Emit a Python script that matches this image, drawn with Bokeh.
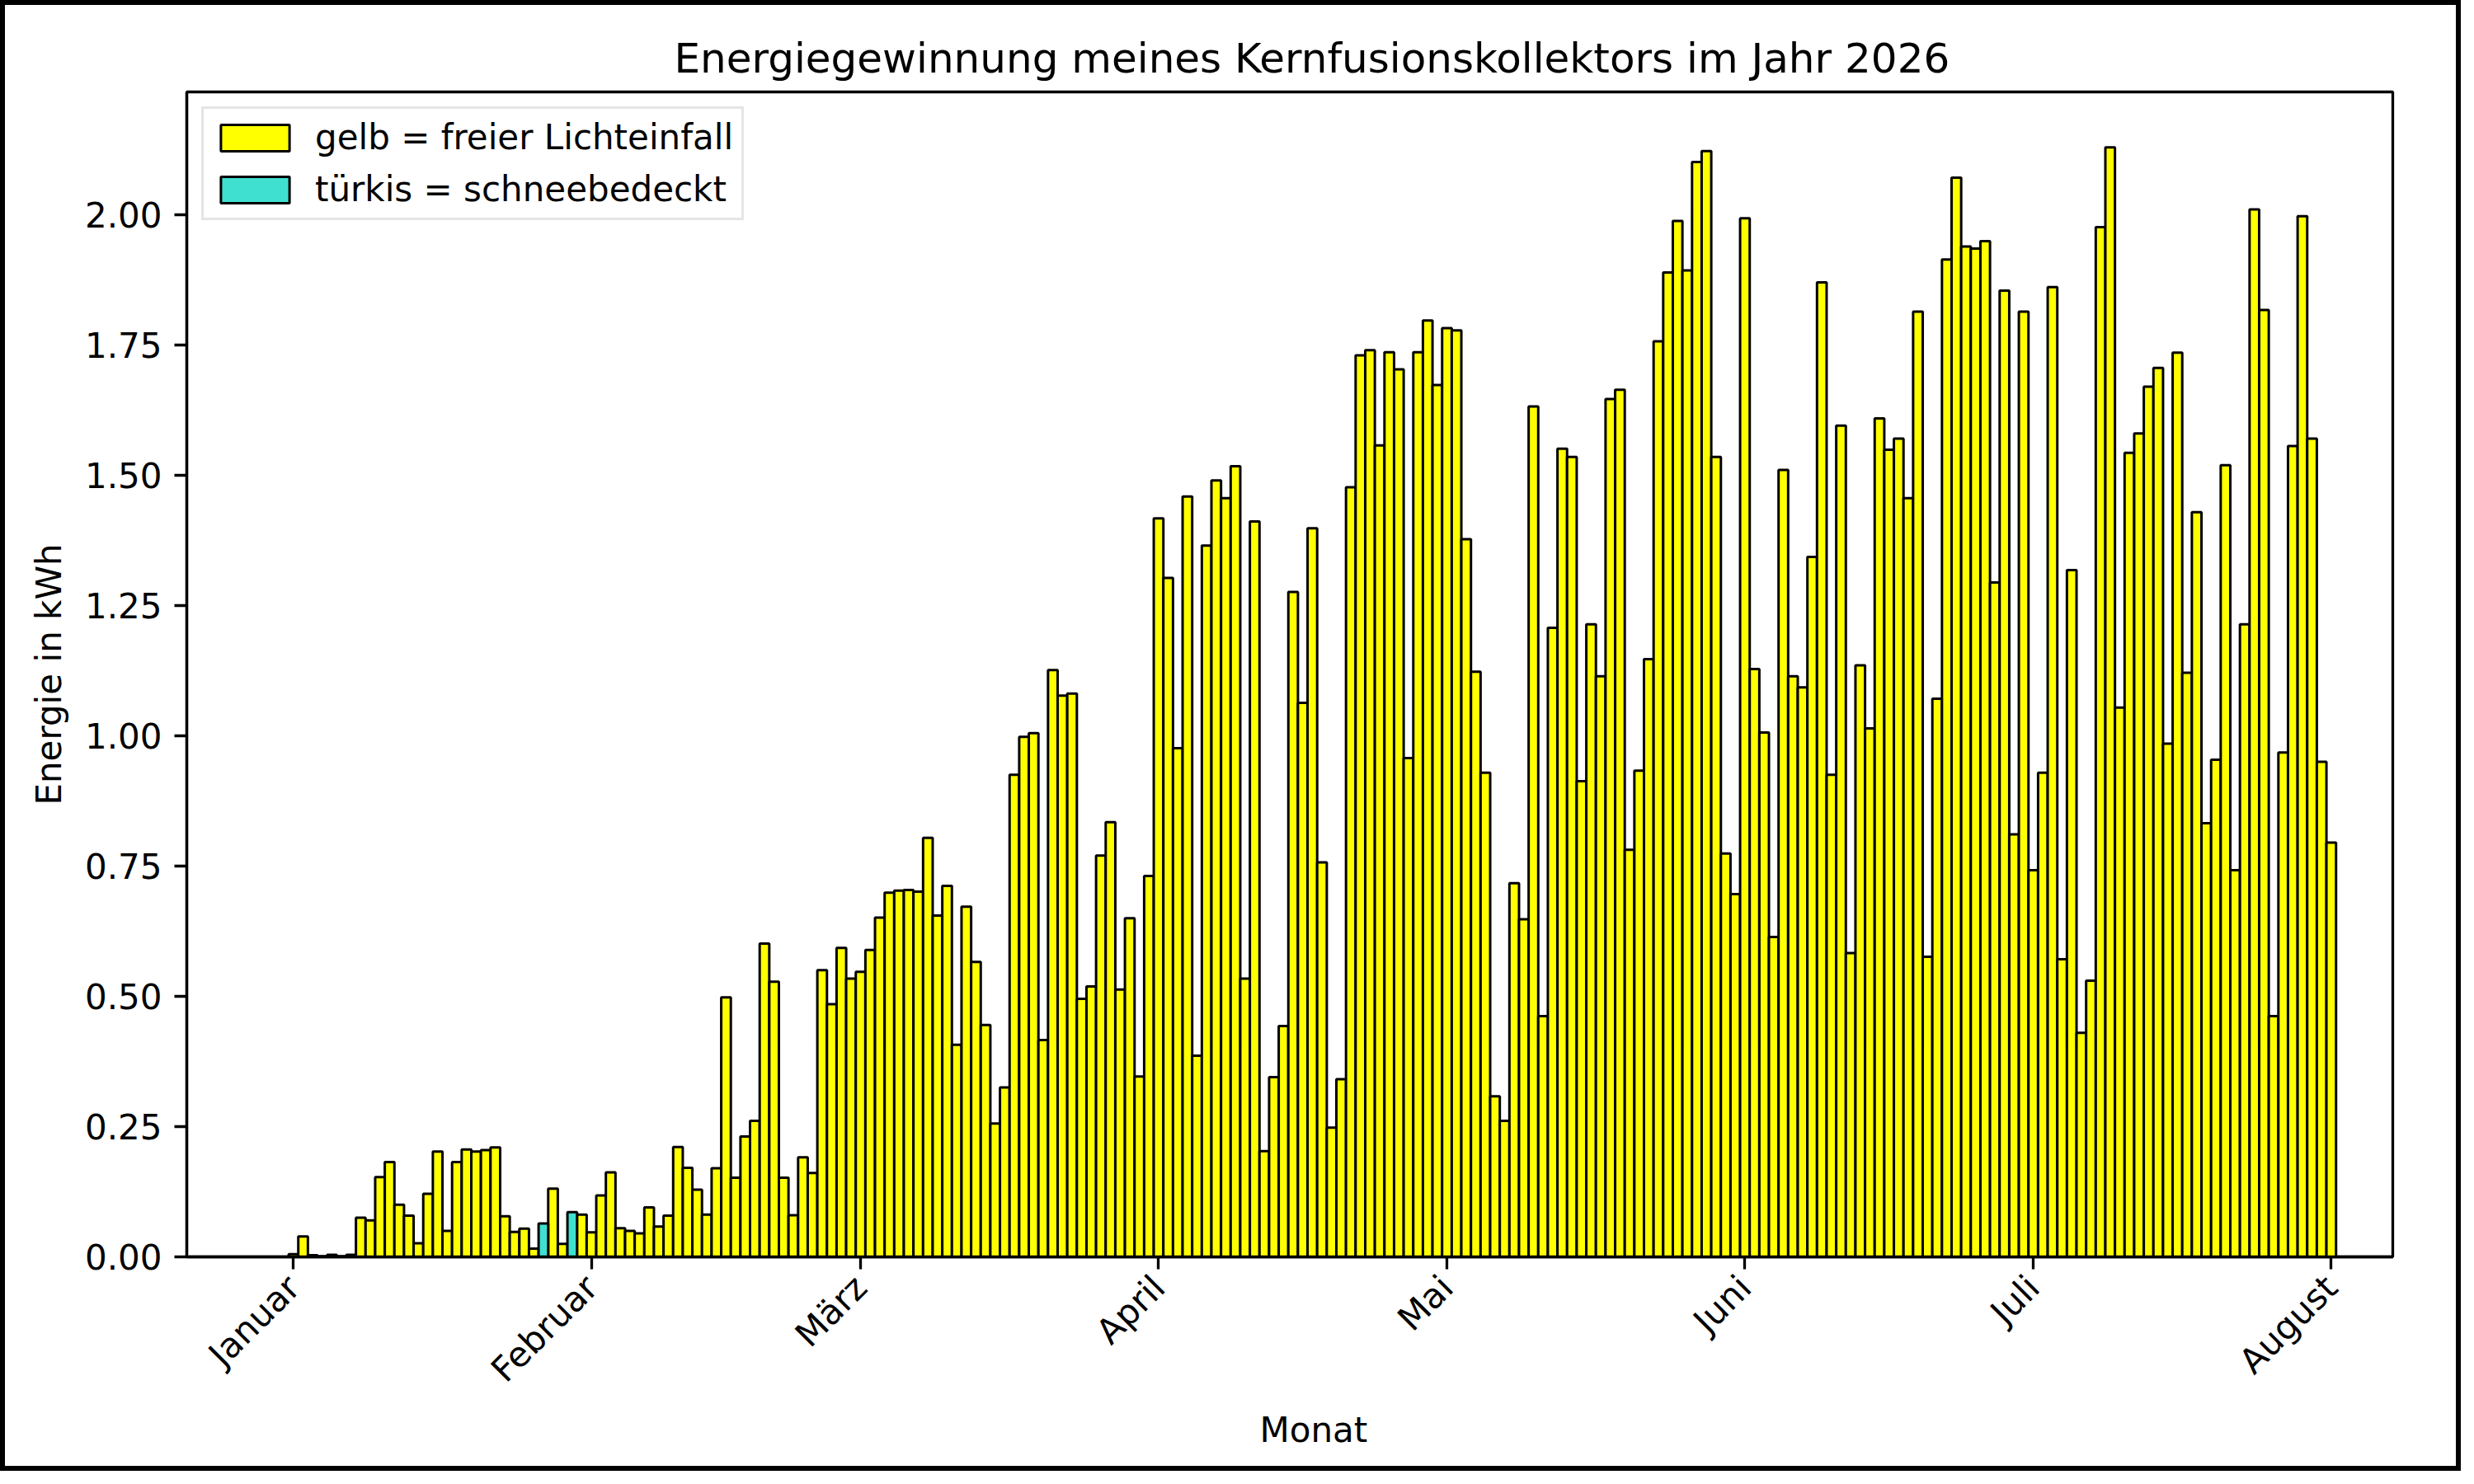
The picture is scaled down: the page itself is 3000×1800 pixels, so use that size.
import math
import pandas as pd
from bokeh.plotting import figure
from bokeh.models import (ColumnDataSource, FixedTicker, CustomJSTickFormatter,
                          NumeralTickFormatter, Range1d, Legend, LegendItem, Title)
from bokeh.layouts import column
from bokeh.embed import file_html
from bokeh.resources import INLINE

# ---------------- data ----------------
title_text = "Energiegewinnung meines Kernfusionskollektors im Jahr 2026"
x_label = "Monat"
y_label = "Energie in kWh"
start_date = "2026-01-01"

jan_values = [0.005, 0.039, 0.003, 0.001, 0.004, 0.001, 0.004, 0.075, 0.070, 0.153,
              0.182, 0.100, 0.079, 0.026, 0.121, 0.202, 0.050, 0.182, 0.206, 0.202,
              0.205, 0.210, 0.078, 0.048, 0.054, 0.016, 0.064, 0.131, 0.025, 0.086,
              0.081]
feb_values = [0.047, 0.118, 0.162, 0.055, 0.050, 0.045, 0.095, 0.058, 0.079, 0.211,
              0.171, 0.129, 0.081, 0.170, 0.498, 0.152, 0.231, 0.261, 0.601, 0.528,
              0.152, 0.080, 0.191, 0.161, 0.550, 0.485, 0.593, 0.534]
mar_values = [0.547, 0.589, 0.651, 0.699, 0.703, 0.704, 0.701, 0.804, 0.655, 0.712,
              0.407, 0.672, 0.566, 0.445, 0.256, 0.325, 0.925, 0.998, 1.005, 0.416,
              1.126, 1.077, 1.081, 0.495, 0.519, 0.770, 0.834, 0.513, 0.650, 0.346,
              0.731]
apr_values = [1.417, 1.303, 0.976, 1.459, 0.386, 1.365, 1.490, 1.456, 1.517, 0.534,
              1.411, 0.203, 0.345, 0.443, 1.276, 1.063, 1.398, 0.757, 0.248, 0.341,
              1.477, 1.730, 1.740, 1.557, 1.736, 1.703, 0.957, 1.736, 1.797, 1.673]
may_values = [1.782, 1.778, 1.377, 1.123, 0.929, 0.308, 0.261, 0.717, 0.648, 1.632,
              0.462, 1.207, 1.551, 1.535, 0.913, 1.214, 1.114, 1.646, 1.664, 0.781,
              0.933, 1.147, 1.757, 1.889, 1.988, 1.893, 2.101, 2.122, 1.535, 0.774,
              0.696]
jun_values = [1.993, 1.128, 1.006, 0.614, 1.510, 1.114, 1.093, 1.343, 1.870, 0.925,
              1.595, 0.583, 1.135, 1.014, 1.609, 1.549, 1.570, 1.456, 1.814, 0.576,
              1.071, 1.914, 2.071, 1.939, 1.935, 1.949, 1.294, 1.854, 0.811, 1.814]
jul_values = [0.742, 0.929, 1.861, 0.571, 1.318, 0.430, 0.530, 1.976, 2.129, 1.054,
              1.543, 1.580, 1.670, 1.706, 0.985, 1.735, 1.121, 1.429, 0.832, 0.954,
              1.519, 0.742, 1.214, 2.010, 1.817, 0.462, 0.968, 1.556, 1.997, 1.570,
              0.950]
aug_values = [0.795]

snow_dates = ["2026-01-27", "2026-01-30"]

month_ticks = ["2026-01-01", "2026-02-01", "2026-03-01", "2026-04-01",
               "2026-05-01", "2026-06-01", "2026-07-01", "2026-08-01"]
month_labels = ["Januar", "Februar", "März", "April", "Mai", "Juni", "Juli", "August"]
y_ticks = [0.0, 0.25, 0.5, 0.75, 1.0, 1.25, 1.5, 1.75, 2.0]
legend_labels = ["gelb = freier Lichteinfall", "türkis = schneebedeckt"]

# ---------------- build ----------------
FONT = "DejaVu Sans"
SUN_COLOR = "#ffff00"
SNOW_COLOR = "#40e0d0"

values = jan_values + feb_values + mar_values + apr_values + may_values + jun_values + jul_values + aug_values
dates = pd.date_range(start_date, periods=len(values), freq="D")
df = pd.DataFrame({"date": dates, "energy": values})
is_snow = df["date"].isin(pd.to_datetime(snow_dates))

src_sun = ColumnDataSource(df[~is_snow].reset_index(drop=True))
src_snow = ColumnDataSource(df[is_snow].reset_index(drop=True))

day_ms = 86400000
x_start = pd.Timestamp(month_ticks[0]) - pd.Timedelta(days=11.1)
x_end = pd.Timestamp(month_ticks[-1]) + pd.Timedelta(days=6.4)
y_top = max(values) * 1.05

p = figure(width=2972, height=1772, x_axis_type="datetime",
           output_backend="svg", toolbar_location=None,
           x_range=Range1d(x_start, x_end), y_range=Range1d(0, y_top),
           min_border_left=220, min_border_right=77,
           min_border_top=105, min_border_bottom=254)

p.background_fill_color = "white"
p.border_fill_color = "white"
p.outline_line_color = "black"
p.outline_line_width = 3.3
p.xgrid.visible = False
p.ygrid.visible = False

p.title.text = title_text
p.title.align = "left"
p.title.offset = 591
p.title.text_font = FONT
p.title.text_font_size = "50px"
p.title.text_font_style = "normal"
p.title.text_color = "black"
p.title.standoff = 24

r_sun = p.vbar(x="date", top="energy", width=day_ms, source=src_sun,
               fill_color=SUN_COLOR, line_color="black", line_width=3)
r_snow = p.vbar(x="date", top="energy", width=day_ms, source=src_snow,
                fill_color=SNOW_COLOR, line_color="black", line_width=3)

tick_ms = [int(pd.Timestamp(d).value // 10**6) for d in month_ticks]
p.xaxis.ticker = FixedTicker(ticks=tick_ms)
p.xaxis.formatter = CustomJSTickFormatter(
    args=dict(month_ms=tick_ms, month_names=month_labels),
    code="const i = month_ms.indexOf(tick); return i >= 0 ? month_names[i] : '';")
p.xaxis.major_label_orientation = math.pi / 4

p.yaxis.ticker = FixedTicker(ticks=y_ticks)
p.yaxis.formatter = NumeralTickFormatter(format="0.00")
p.yaxis.axis_label = y_label

for ax in (p.xaxis[0], p.yaxis[0]):
    ax.axis_line_width = 3.3
    ax.axis_line_color = "black"
    ax.major_tick_line_width = 3.3
    ax.major_tick_line_color = "black"
    ax.major_tick_out = 15
    ax.major_tick_in = 0
    ax.minor_tick_out = 0
    ax.minor_tick_in = 0
    ax.major_label_text_font = FONT
    ax.major_label_text_font_size = "42px"
    ax.major_label_text_color = "black"
    ax.major_label_standoff = 15
    ax.axis_label_text_font = FONT
    ax.axis_label_text_font_size = "42px"
    ax.axis_label_text_font_style = "normal"
    ax.axis_label_text_color = "black"
    ax.axis_label_standoff = 16

# x axis label placed as a text panel below the axis, centred like the reference
x_title = Title(text=x_label, align="left", offset=1301, standoff=2,
                text_font=FONT, text_font_size="42px", text_font_style="normal",
                text_color="black")
p.add_layout(x_title, "below")

legend = Legend(items=[LegendItem(label=legend_labels[0], renderers=[r_sun]),
                       LegendItem(label=legend_labels[1], renderers=[r_snow])],
                location="top_left")
legend.label_text_font = FONT
legend.label_text_font_size = "42px"
legend.label_text_color = "black"
legend.glyph_width = 104
legend.glyph_height = 40
legend.label_standoff = 21
legend.padding = 10
legend.spacing = 14
legend.margin = 18
legend.border_line_color = "#cccccc"
legend.border_line_width = 3
legend.background_fill_alpha = 0.8
p.add_layout(legend)

layout = column(p, styles={"border": "6px solid black"})

with open("out.html", "w", encoding="utf-8") as f:
    f.write(file_html(layout, INLINE, title="Energiegewinnung 2026"))
